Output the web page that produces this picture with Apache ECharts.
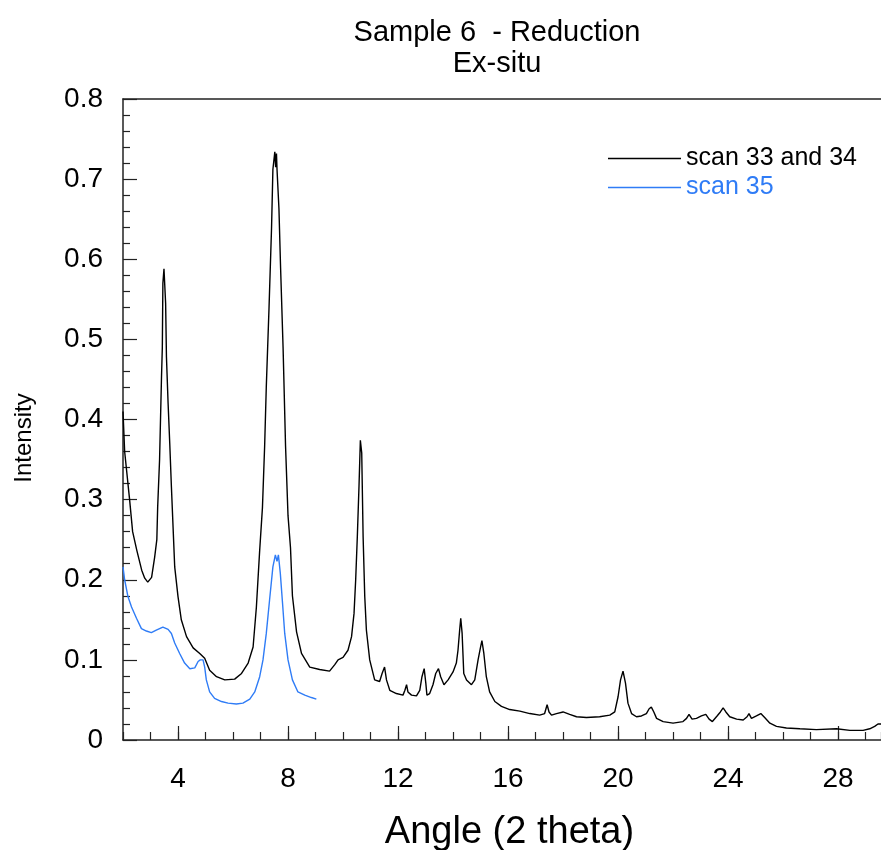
<!DOCTYPE html>
<html>
<head>
<meta charset="utf-8">
<script src="https://cdn.jsdelivr.net/npm/echarts@6/dist/echarts.min.js"></script>
<style>
html,body{margin:0;padding:0;background:#fff;}
#chart{width:881px;height:850px;}
</style>
</head>
<body>
<div id="chart"></div>
<script>
// scan 33 and 34 (black)
var scan3334X = [2.00,2.06,2.24,2.35,2.50,2.68,2.79,2.90,3.04,3.15,3.23,3.26,3.33,3.40,3.43,3.45,3.49,3.55,3.58,3.64,3.70,3.76,3.88,4.00,4.12,4.31,4.55,4.79,4.97,5.15,5.40,5.70,6.06,6.31,6.55,6.73,6.85,6.97,7.07,7.15,7.21,7.31,7.40,7.45,7.52,7.55,7.58,7.60,7.67,7.73,7.82,7.91,8.00,8.09,8.16,8.31,8.49,8.79,9.15,9.51,9.70,9.82,10.00,10.18,10.31,10.40,10.46,10.52,10.58,10.63,10.68,10.73,10.79,10.85,10.97,11.15,11.33,11.42,11.51,11.58,11.70,11.94,12.18,12.25,12.31,12.36,12.49,12.67,12.79,12.87,12.95,13.01,13.05,13.15,13.27,13.37,13.47,13.55,13.67,13.82,14.00,14.12,14.18,14.24,14.28,14.33,14.39,14.49,14.67,14.79,14.91,15.00,15.05,15.12,15.21,15.33,15.52,15.76,16.06,16.43,16.79,17.15,17.33,17.42,17.49,17.58,17.76,18.00,18.24,18.49,18.85,19.33,19.70,19.88,20.00,20.09,20.18,20.27,20.36,20.49,20.67,20.85,21.03,21.13,21.21,21.30,21.40,21.64,22.00,22.36,22.49,22.58,22.69,22.85,23.03,23.19,23.31,23.43,23.60,23.72,23.82,23.92,24.06,24.31,24.55,24.69,24.76,24.85,25.03,25.19,25.33,25.52,25.76,26.12,26.61,27.21,27.94,28.43,28.91,29.15,29.33,29.45,29.56];
var scan3334Y = [0.410,0.360,0.300,0.260,0.237,0.212,0.202,0.197,0.203,0.228,0.250,0.290,0.350,0.453,0.490,0.570,0.588,0.545,0.478,0.420,0.370,0.316,0.216,0.179,0.150,0.129,0.115,0.108,0.102,0.087,0.079,0.075,0.076,0.083,0.096,0.116,0.166,0.237,0.290,0.367,0.441,0.540,0.638,0.712,0.734,0.715,0.732,0.712,0.663,0.589,0.490,0.367,0.280,0.240,0.180,0.135,0.108,0.091,0.088,0.086,0.094,0.100,0.103,0.112,0.129,0.158,0.200,0.254,0.316,0.374,0.358,0.254,0.179,0.137,0.100,0.075,0.073,0.083,0.091,0.075,0.062,0.058,0.056,0.062,0.069,0.060,0.056,0.055,0.062,0.079,0.089,0.071,0.056,0.058,0.069,0.083,0.089,0.079,0.069,0.075,0.085,0.096,0.112,0.137,0.152,0.133,0.083,0.075,0.069,0.075,0.100,0.116,0.124,0.108,0.079,0.060,0.048,0.042,0.038,0.036,0.033,0.031,0.033,0.044,0.035,0.031,0.033,0.035,0.032,0.029,0.028,0.029,0.031,0.035,0.054,0.075,0.086,0.071,0.046,0.033,0.029,0.030,0.033,0.039,0.041,0.035,0.027,0.023,0.021,0.023,0.027,0.032,0.026,0.027,0.030,0.032,0.026,0.023,0.030,0.035,0.040,0.035,0.029,0.026,0.025,0.029,0.033,0.027,0.030,0.033,0.028,0.021,0.017,0.015,0.014,0.013,0.014,0.012,0.012,0.014,0.017,0.020,0.020];

// scan 35 (blue)
var scan35X = [2.00,2.06,2.18,2.31,2.49,2.67,2.85,3.03,3.21,3.45,3.64,3.76,3.88,4.06,4.24,4.43,4.61,4.73,4.81,4.91,4.97,5.03,5.15,5.33,5.58,5.82,6.12,6.36,6.61,6.79,6.97,7.09,7.21,7.33,7.45,7.54,7.60,7.65,7.72,7.80,7.88,8.00,8.16,8.36,8.61,8.85,9.03];
var scan35Y = [0.216,0.200,0.179,0.166,0.152,0.139,0.136,0.134,0.137,0.141,0.138,0.133,0.121,0.108,0.096,0.089,0.090,0.098,0.100,0.100,0.091,0.075,0.060,0.052,0.048,0.046,0.045,0.046,0.051,0.060,0.079,0.100,0.133,0.175,0.216,0.231,0.223,0.231,0.208,0.171,0.133,0.100,0.075,0.060,0.056,0.053,0.051];

// axis ticks
var xMajorTicks = [4,8,12,16,20,24,28];
var xMin = 2, xMax = 29.56;

function pairs(xs, ys){
  var out = [];
  for (var i = 0; i < xs.length; i++) out.push([xs[i], ys[i]]);
  return out;
}

var FONT = '"Liberation Sans", Arial, sans-serif';
var axisColor = '#222';

var chart = echarts.init(document.getElementById('chart'));
var option = {
  backgroundColor: '#fff',
  animation: false,
  textStyle: {fontFamily: FONT},
  title: {
    text: 'Sample 6  - Reduction\nEx-situ',
    left: 492, top: 12,
    textAlign: 'center',
    textStyle: {fontSize: 29, fontWeight: 'normal', color: '#000', lineHeight: 31, fontFamily: FONT}
  },
  legend: {
    orient: 'vertical',
    left: 603, top: 141,
    itemWidth: 73, itemHeight: 1.5,
    itemGap: 4,
    icon: 'rect',
    textStyle: {fontSize: 25, fontFamily: FONT},
    data: [
      {name: 'scan 33 and 34', textStyle: {color: '#000'}},
      {name: 'scan 35', textStyle: {color: '#2f7cf6'}}
    ]
  },
  grid: {left: 123, top: 99, right: 0, bottom: 110, outerBoundsMode: 'none', containLabel: false},
  xAxis: [
    {
      type: 'value', min: xMin, max: xMax, interval: 1,
      position: 'bottom',
      name: 'Angle (2 theta)', nameLocation: 'middle', nameGap: 74,
      nameTextStyle: {fontSize: 38, color: '#000', fontFamily: FONT, padding: [0, 0, 0, 15]},
      axisLine: {show: true, lineStyle: {color: axisColor, width: 1.5}},
      axisTick: {show: true, inside: true, length: 8, lineStyle: {color: axisColor, width: 1.2}},
      axisLabel: {customValues: xMajorTicks, fontSize: 28, color: '#000', margin: 25, fontFamily: FONT},
      splitLine: {show: false}
    },
    {
      type: 'value', min: xMin, max: xMax,
      position: 'bottom',
      axisLine: {show: false},
      axisTick: {show: true, inside: true, length: 14, customValues: xMajorTicks, lineStyle: {color: axisColor, width: 1.2}},
      axisLabel: {show: false},
      splitLine: {show: false}
    },
    {
      type: 'value', min: xMin, max: xMax,
      position: 'top',
      axisLine: {show: true, lineStyle: {color: axisColor, width: 1.5}},
      axisTick: {show: false},
      axisLabel: {show: false},
      splitLine: {show: false}
    }
  ],
  yAxis: {
    type: 'value', min: 0, max: 0.8, interval: 0.1,
    axisLine: {show: true, lineStyle: {color: axisColor, width: 1.5}},
    axisTick: {show: true, inside: true, length: 14, lineStyle: {color: axisColor, width: 1.2}},
    minorTick: {show: true, splitNumber: 5, length: 7, lineStyle: {color: axisColor, width: 1.2}},
    axisLabel: {
      fontSize: 28, color: '#000', margin: 20, fontFamily: FONT,
      formatter: function(v){ return v === 0 ? '0' : v.toFixed(1); }
    },
    splitLine: {show: false}
  },
  graphic: [{
    type: 'text',
    x: 24, y: 438, rotation: Math.PI / 2,
    style: {text: 'Intensity', fontSize: 24, fill: '#000', fontFamily: FONT, textAlign: 'center', textVerticalAlign: 'middle'}
  }],
  series: [
    {
      name: 'scan 33 and 34', type: 'line', xAxisIndex: 0,
      data: pairs(scan3334X, scan3334Y),
      showSymbol: false, symbol: 'none',
      lineStyle: {color: '#000', width: 1.4},
      itemStyle: {color: '#000'}
    },
    {
      name: 'scan 35', type: 'line', xAxisIndex: 0,
      data: pairs(scan35X, scan35Y),
      showSymbol: false, symbol: 'none',
      lineStyle: {color: '#2f7cf6', width: 1.4},
      itemStyle: {color: '#2f7cf6'}
    }
  ]
};
chart.setOption(option);
</script>
</body>
</html>
